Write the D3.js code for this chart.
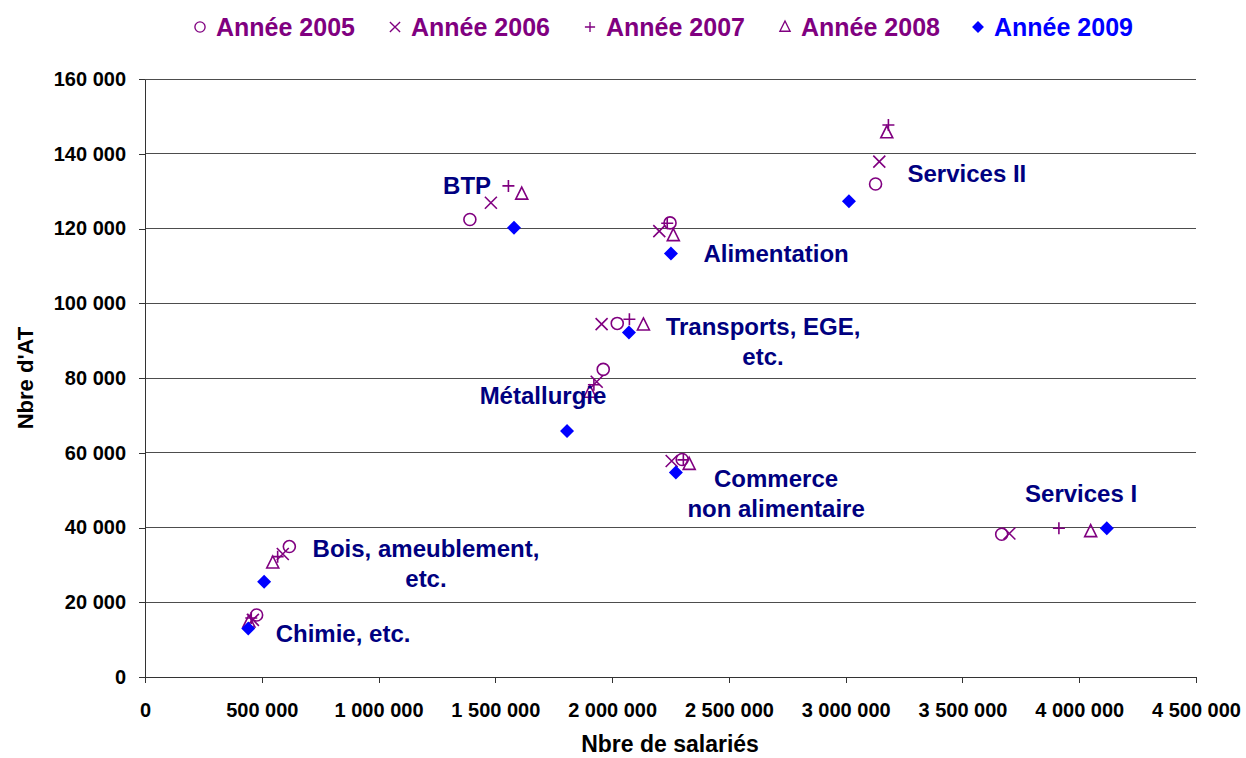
<!DOCTYPE html>
<html><head><meta charset="utf-8">
<script src="https://cdn.jsdelivr.net/npm/d3@7"></script>
<style>body{margin:0;background:#fff;}text{font-family:"Liberation Sans",Arial,sans-serif;font-weight:bold;}</style>
</head><body><svg id="c" width="1246" height="758"></svg>
<script>
// Sectors order
const sectors = ["Chimie","Bois","BTP","Métallurgie","Transports","Alimentation","Commerce","Services II","Services I"];
const years = ["Année 2005","Année 2006","Année 2007","Année 2008","Année 2009"];
// Nbre de salariés per year
const x2005 = [478000, 618000, 1391000, 1962000, 2022000, 2248000, 2300000, 3128000, 3668000];
const x2006 = [462000, 590000, 1481000, 1934000, 1955000, 2202000, 2255000, 3144000, 3701000];
const x2007 = [455000, 568000, 1556000, 1922000, 2074000, 2236000, 2305000, 3183000, 3913000];
const x2008 = [445000, 547000, 1613000, 1905000, 2134000, 2262000, 2330000, 3176000, 4049000];
const x2009 = [442000, 510000, 1580000, 1807000, 2072000, 2252000, 2273000, 3014000, 4118000];
// Nbre d'AT per year
const y2005 = [16600, 34900, 122400, 82300, 94600, 121500, 58200, 131900, 38200];
const y2006 = [15300, 32900, 126900, 79000, 94400, 119300, 57800, 137900, 38400];
const y2007 = [15800, 32200, 131400, 78200, 95700, 121400, 58100, 147700, 39800];
const y2008 = [14700, 30500, 129200, 76200, 94200, 118100, 56900, 145600, 38900];
const y2009 = [13000, 25500, 120200, 65800, 92200, 113300, 54700, 127300, 39800];
const xTicks = [0,500000,1000000,1500000,2000000,2500000,3000000,3500000,4000000,4500000];
const yTicks = [0,20000,40000,60000,80000,100000,120000,140000,160000];
// annotation labels: lines, x value, y value (baseline of first line)
const labelText = [["BTP"],["Services II"],["Alimentation"],["Transports, EGE,","etc."],["Métallurgie"],["Commerce","non alimentaire"],["Services I"],["Bois, ameublement,","etc."],["Chimie, etc."]];
const labelX = [1379000, 3519000, 2702000, 2646000, 1704000, 2702000, 4008000, 1203000, 848000];
const labelY = [129200, 132400, 111000, 91500, 73000, 50800, 46800, 32100, 9400];

const seriesX = [x2005,x2006,x2007,x2008,x2009];
const seriesY = [y2005,y2006,y2007,y2008,y2009];
const purple = "#800080", blue = "#0000FF", navy = "#000080";

const svg = d3.select("#c");
const x = d3.scaleLinear().domain([0,4500000]).range([145,1196]);
const y = d3.scaleLinear().domain([0,160000]).range([677,79]);
const fmt = v => d3.format(",")(v).replace(/,/g," ");

// gridlines
svg.append("g").selectAll("line").data(yTicks.filter(d=>d>0)).join("line")
  .attr("x1",145).attr("x2",1196).attr("y1",d=>y(d)).attr("y2",d=>y(d))
  .attr("stroke","#4d4d4d").attr("stroke-width",1).attr("shape-rendering","crispEdges");

const xa = svg.append("g").attr("transform","translate(0,677)")
  .call(d3.axisBottom(x).tickValues(xTicks).tickFormat(fmt).tickSizeInner(6).tickSizeOuter(0).tickPadding(20));
const ya = svg.append("g").attr("transform","translate(145,0)")
  .call(d3.axisLeft(y).tickValues(yTicks).tickFormat(fmt).tickSizeInner(6).tickSizeOuter(0).tickPadding(13));
[xa,ya].forEach(a=>{
  a.selectAll("path,line").attr("stroke","#333").attr("shape-rendering","crispEdges");
  a.selectAll("text").attr("font-size",20).attr("fill","#000").attr("font-family","Liberation Sans, Arial").attr("font-weight","bold");
});

svg.append("text").attr("x",670).attr("y",752).attr("text-anchor","middle").attr("font-size",23).text("Nbre de salariés");
svg.append("text").attr("transform","translate(33,378) rotate(-90)").attr("text-anchor","middle").attr("font-size",22).text("Nbre d'AT");

// marker shapes
function marker(sel, k){
  if(k===0) sel.append("circle").attr("r",6).attr("fill","none").attr("stroke",purple).attr("stroke-width",1.6);
  else if(k===1) sel.append("path").attr("d","M-6,-6L6,6M-6,6L6,-6").attr("stroke",purple).attr("stroke-width",1.6).attr("fill","none");
  else if(k===2) sel.append("path").attr("d","M-6,0H6M0,-6V6").attr("stroke",purple).attr("stroke-width",1.6).attr("fill","none");
  else if(k===3) sel.append("path").attr("d","M0,-7L6,5H-6Z").attr("stroke",purple).attr("stroke-width",1.6).attr("fill","none");
  else sel.append("path").attr("d","M0,-7L7,0L0,7L-7,0Z").attr("fill",blue);
}

// points
seriesX.forEach((xs,k)=>{
  const g = svg.append("g");
  xs.forEach((v,i)=>{
    const m = g.append("g").attr("transform",`translate(${x(v)},${y(seriesY[k][i])})`);
    marker(m,k);
  });
});

// labels
labelText.forEach((lines,i)=>{
  const t = svg.append("text").attr("text-anchor","middle").attr("font-size",24).attr("fill",navy)
    .attr("x",x(labelX[i])).attr("y",y(labelY[i]));
  lines.forEach((l,j)=>t.append("tspan").attr("x",x(labelX[i])).attr("dy",j===0?0:30).text(l));
});

// legend
const legX = [200,395,590,785,978];
years.forEach((yr,k)=>{
  const m = svg.append("g").attr("transform",`translate(${legX[k]},27) scale(0.85)`);
  marker(m,k);
  svg.append("text").attr("x",legX[k]+16).attr("y",36).attr("font-size",25)
    .attr("fill",k===4?blue:purple).text(yr);
});
</script></body></html>
